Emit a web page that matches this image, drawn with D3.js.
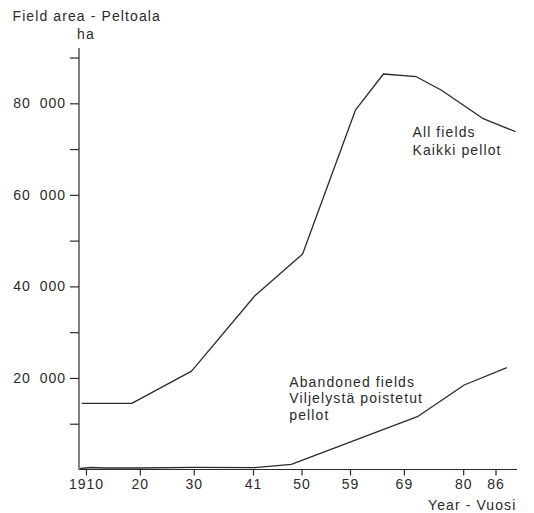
<!DOCTYPE html>
<html>
<head>
<meta charset="utf-8">
<script src="https://cdn.jsdelivr.net/npm/d3@7"></script>
<style>
  html, body { margin: 0; padding: 0; background: #fff; }
  svg { display: block; }
  text { font-family: "Liberation Sans", Arial, Helvetica, sans-serif; fill: #2b2b2b; }
</style>
</head>
<body>
<script>
// Field area in hectares, all fields and fields withdrawn from cultivation
const allYears  = [1909.2, 1918.5, 1929.6, 1941.3, 1950.2, 1960.0, 1965.2, 1971.3, 1975.9, 1983.6, 1989.7];
const allArea   = [14460, 14460, 21480, 37900, 47080, 78490, 86400, 85810, 82910, 76720, 73800];

const abandonedYears = [1908.9, 1911.1, 1913.5, 1919.6, 1930.2, 1941.3, 1948.1, 1971.5, 1980.2, 1988.1];
const abandonedArea  = [220, 440, 330, 330, 480, 390, 1140, 11530, 18460, 22240];

const xTickYears  = [1910, 1920, 1930, 1941, 1950, 1959, 1969, 1980, 1986];
const xTickLabels = ["1910", "20", "30", "41", "50", "59", "69", "80", "86"];
const yMajorTicks = [20000, 40000, 60000, 80000];
const yMinorTicks = [10000, 30000, 50000, 70000, 90000];

const W = 534, H = 513;
const ink = "#2b2b2b";

const svg = d3.select("body").append("svg")
  .attr("width", W).attr("height", H);

const x = d3.scaleLinear().domain([1910, 1986]).range([85.97, 495.5]);
const y = d3.scaleLinear().domain([0, 80000]).range([469.5, 103.3]);
const axisX = 79;

// y axis line and ticks
svg.append("line")
  .attr("x1", axisX).attr("x2", axisX)
  .attr("y1", 48).attr("y2", y(0))
  .attr("stroke", ink).attr("stroke-width", 1.2);

const yAxis = d3.axisLeft(y)
  .tickValues(yMajorTicks)
  .tickSize(9)
  .tickPadding(4)
  .tickFormat(d => d3.format(",")(d).replace(",", " "));
const yg = svg.append("g").attr("transform", `translate(${axisX},0)`).call(yAxis);
yg.select(".domain").remove();
yg.selectAll(".tick line").attr("stroke", ink).attr("stroke-width", 1.2);
yg.selectAll(".tick text")
  .attr("font-size", 14).attr("font-family", null)
  .style("letter-spacing", "1px").style("word-spacing", "4px")
  .attr("fill", ink);

const yMinor = d3.axisLeft(y).tickValues(yMinorTicks).tickSize(9).tickFormat("");
const ymg = svg.append("g").attr("transform", `translate(${axisX},0)`).call(yMinor);
ymg.select(".domain").remove();
ymg.selectAll(".tick line").attr("stroke", ink).attr("stroke-width", 1.2);

// x axis line and ticks
svg.append("line")
  .attr("x1", axisX).attr("x2", 517)
  .attr("y1", y(0)).attr("y2", y(0))
  .attr("stroke", ink).attr("stroke-width", 1.2);

const xAxis = d3.axisBottom(x)
  .tickValues(xTickYears)
  .tickSize(6)
  .tickPadding(4)
  .tickFormat((d, i) => xTickLabels[i]);
const xg = svg.append("g").attr("transform", `translate(0,${y(0)})`).call(xAxis);
xg.select(".domain").remove();
xg.selectAll(".tick line").attr("stroke", ink).attr("stroke-width", 1.2);
xg.selectAll(".tick text")
  .attr("font-size", 14).attr("font-family", null)
  .style("letter-spacing", "1px")
  .attr("fill", ink);

// series lines
const line = d3.line().x(d => x(d[0])).y(d => y(d[1]));
svg.append("path")
  .datum(d3.zip(allYears, allArea))
  .attr("d", line)
  .attr("fill", "none").attr("stroke", ink).attr("stroke-width", 1.3)
  .attr("stroke-linejoin", "round");
svg.append("path")
  .datum(d3.zip(abandonedYears, abandonedArea))
  .attr("d", line)
  .attr("fill", "none").attr("stroke", ink).attr("stroke-width", 1.3)
  .attr("stroke-linejoin", "round");

// titles and series labels
function label(tx, ty, str, size) {
  svg.append("text")
    .attr("x", tx).attr("y", ty)
    .attr("font-size", size || 14)
    .style("letter-spacing", "1.1px")
    .text(str);
}
label(12.5, 20.7, "Field area - Peltoala");
label(77, 39.3, "ha");
label(428, 510, "Year - Vuosi");
label(412.5, 137.3, "All fields");
label(412.5, 155, "Kaikki pellot");
label(289.3, 386.7, "Abandoned fields");
label(289.3, 403.3, "Viljelystä poistetut");
label(289.3, 420, "pellot");
</script>
</body>
</html>
